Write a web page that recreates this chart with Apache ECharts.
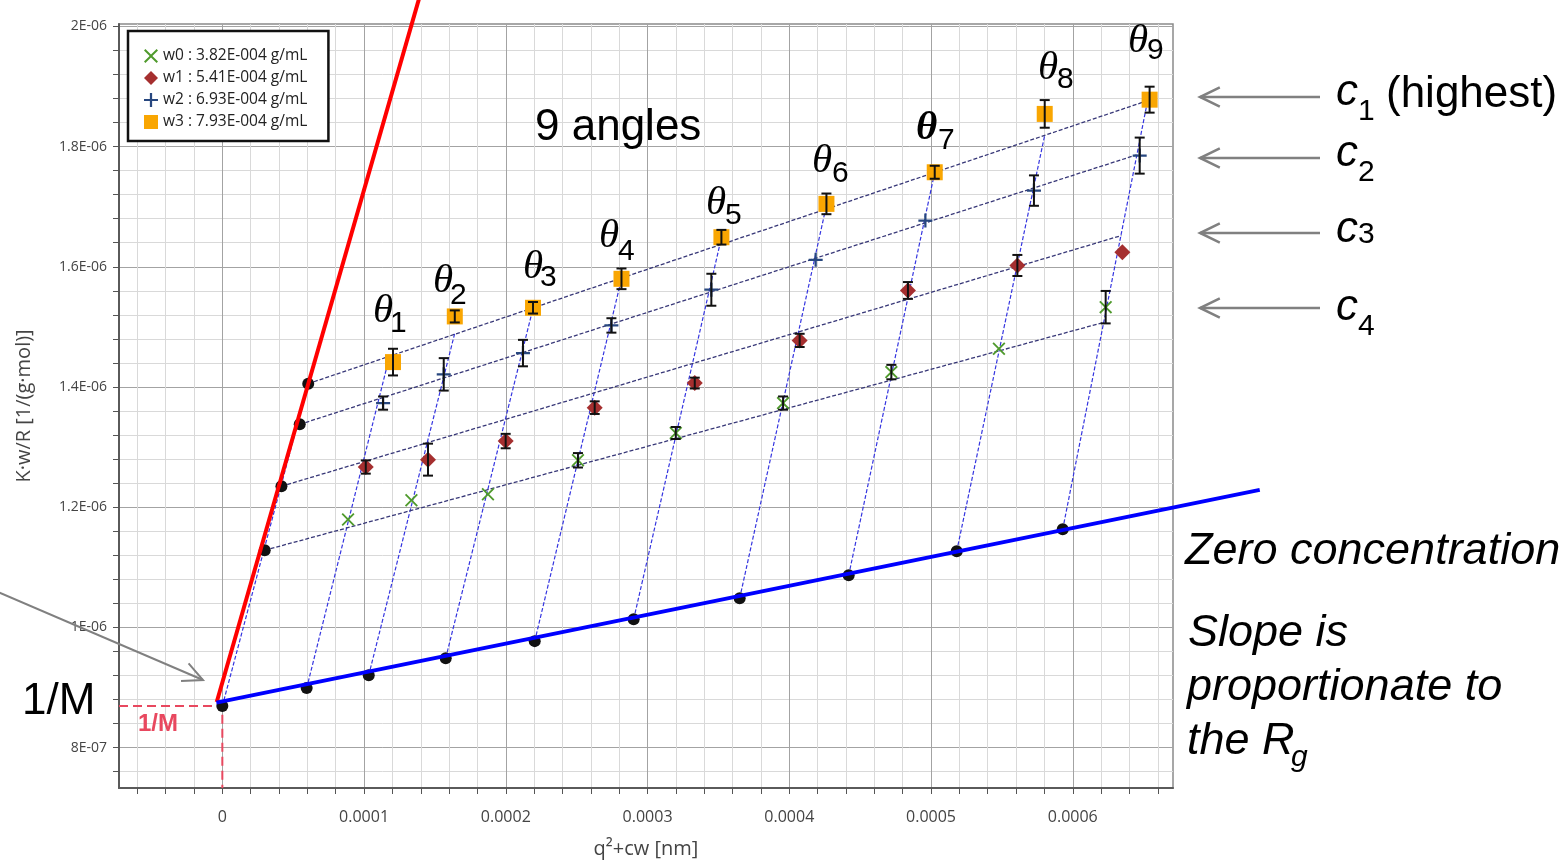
<!DOCTYPE html>
<html lang="en">
<head>
<meta charset="UTF-8" />
<title>Zimm plot</title>
<script src="https://cdn.jsdelivr.net/npm/echarts@6.0.0/dist/echarts.min.js"></script>
<style>
  body { margin: 0; background: #fff; }
  #main { width: 1568px; height: 864px; }
</style>
</head>
<body>
<div id="main"></div>
<script>
  // axes
  const xMajor = [0, 0.0001, 0.0002, 0.0003, 0.0004, 0.0005, 0.0006];
  const yMajor = [8e-7, 1e-6, 1.2e-6, 1.4e-6, 1.6e-6, 1.8e-6, 2e-6];
  const xRange = [-7.29e-5, 6.707e-4];
  const yRange = [7.327e-7, 2.004e-6];

  // measured points, one array per concentration (theta1..theta9)
  const concNames = ['w0 : 3.82E-004 g/mL', 'w1 : 5.41E-004 g/mL', 'w2 : 6.93E-004 g/mL', 'w3 : 7.93E-004 g/mL'];
  const w0X = [0.887e-4, 1.334e-4, 1.874e-4, 2.509e-4, 3.199e-4, 3.956e-4, 4.720e-4, 5.479e-4, 6.232e-4];
  const w0Y = [1.1794e-6, 1.2115e-6, 1.2214e-6, 1.2780e-6, 1.3234e-6, 1.3732e-6, 1.4248e-6, 1.4637e-6, 1.5328e-6];
  const w0Err = [0, 0, 0, 0.012e-6, 0.010e-6, 0.011e-6, 0.012e-6, 0, 0.027e-6];
  const w1X = [1.012e-4, 1.451e-4, 1.999e-4, 2.627e-4, 3.333e-4, 4.073e-4, 4.837e-4, 5.609e-4, 6.350e-4];
  const w1Y = [1.2668e-6, 1.2791e-6, 1.3100e-6, 1.3656e-6, 1.4065e-6, 1.4775e-6, 1.5606e-6, 1.6022e-6, 1.6243e-6];
  const w1Err = [0.011e-6, 0.0266e-6, 0.012e-6, 0.0105e-6, 0.009e-6, 0.011e-6, 0.014e-6, 0.0175e-6, 0];
  const w2X = [1.134e-4, 1.562e-4, 2.121e-4, 2.745e-4, 3.450e-4, 4.186e-4, 4.960e-4, 5.726e-4, 6.472e-4];
  const w2Y = [1.3732e-6, 1.4210e-6, 1.4564e-6, 1.5024e-6, 1.5618e-6, 1.6116e-6, 1.6770e-6, 1.7268e-6, 1.7850e-6];
  const w2Err = [0.011e-6, 0.027e-6, 0.022e-6, 0.012e-6, 0.0266e-6, 0, 0, 0.0253e-6, 0.030e-6];
  const w3X = [1.204e-4, 1.640e-4, 2.192e-4, 2.816e-4, 3.521e-4, 4.262e-4, 5.026e-4, 5.802e-4, 6.542e-4];
  const w3Y = [1.4414e-6, 1.5174e-6, 1.5318e-6, 1.5800e-6, 1.6492e-6, 1.7047e-6, 1.7573e-6, 1.8544e-6, 1.8781e-6];
  const w3Err = [0.0222e-6, 0.010e-6, 0.0096e-6, 0.0172e-6, 0.0122e-6, 0.0172e-6, 0.0108e-6, 0.023e-6, 0.0216e-6];

  // extrapolated points: zero angle (c1..c4) and zero concentration (theta0..theta9)
  const zeroAngleX = [6.06e-5, 5.46e-5, 4.17e-5, 2.99e-5];
  const zeroAngleY = [1.4055e-6, 1.3378e-6, 1.2348e-6, 1.1283e-6];
  const zeroConcX = [0, 5.95e-5, 1.033e-4, 1.576e-4, 2.204e-4, 2.902e-4, 3.650e-4, 4.419e-4, 5.181e-4, 5.929e-4];
  const zeroConcY = [0.869e-6, 0.8989e-6, 0.9205e-6, 0.9488e-6, 0.9771e-6, 1.0136e-6, 1.0485e-6, 1.0868e-6, 1.1267e-6, 1.1633e-6];

  // fitted grid ends: angle lines end on c1, concentration lines end on theta9
  const fitC1X = [6.06e-5, 1.181e-4, 1.640e-4, 2.190e-4, 2.818e-4, 3.510e-4, 4.257e-4, 5.026e-4, 5.802e-4, 6.528e-4];
  const fitC1Y = [1.4055e-6, 1.4525e-6, 1.4896e-6, 1.5290e-6, 1.5819e-6, 1.6371e-6, 1.6969e-6, 1.7573e-6, 1.8190e-6, 1.8765e-6];
  const fitT9X = [6.528e-4, 6.449e-4, 6.343e-4, 6.218e-4];
  const fitT9Y = [1.8765e-6, 1.7862e-6, 1.6520e-6, 1.5074e-6];

  // extrapolation lines (zero angle in red, zero concentration in blue)
  const redLineX = [-3.95e-6, 1.3925e-4];
  const redLineY = [0.8757e-6, 2.05e-6];
  const blueLineX = [-4.2e-6, 7.319e-4];
  const blueLineY = [0.8748e-6, 1.2288e-6];
  const oneOverM = 0.869e-6;

  function minorTicks(major, from, to) {
    const step = (major[1] - major[0]) / 5;
    const out = [];
    for (let k = Math.ceil(from / step - 1e-6); k * step <= to; k++) {
      out.push(Number((k * step).toPrecision(10)));
    }
    return out;
  }
  const xMinor = minorTicks(xMajor, xRange[0], xRange[1]);
  const yMinor = minorTicks(yMajor, yRange[0], yRange[1]);

  function sciLabel(v) {
    const parts = Number(v.toPrecision(6)).toExponential().split('e');
    const n = parseInt(parts[1], 10);
    return parts[0] + 'E' + (n < 0 ? '-' : '+') + String(Math.abs(n)).padStart(2, '0');
  }

  const zip = (xs, ys) => xs.map((x, i) => [x, ys[i]]);
  const withErr = (xs, ys, es) => xs.map((x, i) => [x, ys[i], es[i]]);

  const markers = [
    { X: w0X, Y: w0Y, E: w0Err, color: '#4f9a2c', size: 13,
      symbol: 'path://M1,0L5,4L9,0L10,1L6,5L10,9L9,10L5,6L1,10L0,9L4,5L0,1Z' },
    { X: w1X, Y: w1Y, E: w1Err, color: '#a52f2f', size: 16, symbol: 'diamond' },
    { X: w2X, Y: w2Y, E: w2Err, color: '#27477f', size: 14,
      symbol: 'path://M4.2,0H5.8V4.2H10V5.8H5.8V10H4.2V5.8H0V4.2H4.2Z' },
    { X: w3X, Y: w3Y, E: w3Err, color: '#f9a602', size: 16, symbol: 'rect' }
  ];

  const angleLines = zeroConcX.map((x, i) => ({ coords: [[x, zeroConcY[i]], [fitC1X[i], fitC1Y[i]]] }));
  const concLines = zeroAngleX.map((x, i) => ({ coords: [[x, zeroAngleY[i]], [fitT9X[i], fitT9Y[i]]] }));

  const series = [
    {
      type: 'lines', coordinateSystem: 'cartesian2d', silent: true, z: 2,
      lineStyle: { color: '#3535e0', width: 1.2, type: [4, 2], opacity: 1 },
      data: angleLines
    },
    {
      type: 'lines', coordinateSystem: 'cartesian2d', silent: true, z: 2,
      lineStyle: { color: '#383878', width: 1.3, type: [4, 2], opacity: 1 },
      data: concLines
    },
    {
      type: 'lines', coordinateSystem: 'cartesian2d', silent: true, polyline: true, z: 2,
      lineStyle: { color: '#e8485f', width: 2, type: [9, 5], opacity: 1 },
      data: [{ coords: [[xRange[0], oneOverM], [0, oneOverM], [0, yRange[0]]] }]
    },
    {
      type: 'scatter', silent: true, z: 3, symbolSize: 12,
      itemStyle: { color: '#111', opacity: 1 },
      data: zip(zeroAngleX, zeroAngleY).concat(zip(zeroConcX, zeroConcY))
    },
    {
      type: 'lines', coordinateSystem: 'cartesian2d', silent: true, clip: false, z: 4,
      lineStyle: { color: '#ff0000', width: 4, opacity: 1 },
      data: [{ coords: zip(redLineX, redLineY) }]
    },
    {
      type: 'lines', coordinateSystem: 'cartesian2d', silent: true, clip: false, z: 4,
      lineStyle: { color: '#0000ff', width: 4, opacity: 1 },
      data: [{ coords: zip(blueLineX, blueLineY) }]
    }
  ];

  markers.forEach((m, i) => {
    series.push({
      name: concNames[i], type: 'scatter', z: 5,
      symbol: m.symbol, symbolSize: m.size,
      itemStyle: { color: m.color, opacity: 1 },
      data: zip(m.X, m.Y)
    });
    series.push({
      type: 'custom', z: 6, silent: true,
      data: withErr(m.X, m.Y, m.E),
      renderItem: function (params, api) {
        const x = api.value(0), y = api.value(1), e = api.value(2);
        if (!e) return null;
        const top = api.coord([x, y + e]);
        const bot = api.coord([x, y - e]);
        const st = { stroke: '#111', lineWidth: 2 };
        return {
          type: 'group',
          children: [
            { type: 'line', shape: { x1: top[0], y1: top[1], x2: bot[0], y2: bot[1] }, style: st },
            { type: 'line', shape: { x1: top[0] - 5, y1: top[1], x2: top[0] + 5, y2: top[1] }, style: st },
            { type: 'line', shape: { x1: bot[0] - 5, y1: bot[1], x2: bot[0] + 5, y2: bot[1] }, style: st }
          ]
        };
      }
    });
  });

  const sans = '"Liberation Sans", Arial, sans-serif';
  const serif = '"Liberation Serif", "Times New Roman", serif';
  function text(x, y, str, size, extra) {
    return {
      type: 'text', x: x, y: y, z: 100, silent: true,
      style: Object.assign({ text: str, fontSize: size, fontFamily: sans, fill: '#000',
        align: 'left', verticalAlign: 'middle' }, extra || {})
    };
  }
  function arrow(x1, y1, x2, y2, w) {
    const a = Math.atan2(y2 - y1, x2 - x1);
    const h = 22, s = 0.45;
    return [
      { type: 'line', z: 100, silent: true, shape: { x1: x1, y1: y1, x2: x2, y2: y2 },
        style: { stroke: '#808080', lineWidth: w } },
      { type: 'polyline', z: 100, silent: true,
        shape: { points: [
          [x2 - h * Math.cos(a - s), y2 - h * Math.sin(a - s)], [x2, y2],
          [x2 - h * Math.cos(a + s), y2 - h * Math.sin(a + s)]] },
        style: { stroke: '#808080', lineWidth: w, fill: null } }
    ];
  }

  const thetaPos = [[373, 311, 390, 324], [433, 281, 450, 296], [523, 267, 540, 278], [599, 236, 618, 252],
    [706, 203, 725, 216], [812, 161, 832, 174], [916, 128, 938, 141], [1038, 68, 1057, 80], [1128, 41, 1147, 51]];
  const graphic = [];
  thetaPos.forEach((p, i) => {
    graphic.push(text(p[0], p[1], 'θ', 41, { fontFamily: serif, fontStyle: 'italic', fontWeight: i === 6 ? 'bold' : 'normal' }));
    graphic.push(text(p[2], p[3], String(i + 1), 30));
  });
  graphic.push(text(535, 128, '9 angles', 44));
  const cPos = [[93, 112, '1'], [154, 173, '2'], [230, 235, '3'], [308, 327, '4']];
  const arrowY = [97, 158, 233, 308];
  cPos.forEach((p, i) => {
    graphic.push(text(1336, p[0], 'c', 44, { fontStyle: 'italic' }));
    graphic.push(text(1358, p[1], p[2], 30));
    graphic.push(...arrow(1320, arrowY[i], 1200, arrowY[i], 2.5));
  });
  graphic.push(text(1386, 95, '(highest)', 44));
  graphic.push(text(1185, 551, 'Zero concentration', 45, { fontStyle: 'italic' }));
  graphic.push(text(1188, 633, 'Slope is', 45, { fontStyle: 'italic' }));
  graphic.push(text(1187, 687, 'proportionate to', 45, { fontStyle: 'italic' }));
  graphic.push(text(1187, 741, 'the R', 45, { fontStyle: 'italic' }));
  graphic.push(text(1291, 758, 'g', 30, { fontStyle: 'italic' }));
  graphic.push(text(22, 702, '1/M', 44));
  graphic.push(text(138, 724, '1/M', 24, { fontWeight: 'bold', fill: '#e8485f' }));
  graphic.push(...arrow(-2, 592, 203, 680, 2));

  const uiFont = '"Open Sans", sans-serif';

  const chart = echarts.init(document.getElementById('main'), null, { renderer: 'canvas' });
  chart.setOption({
    backgroundColor: '#fff',
    animation: false,
    grid: { left: 119, right: 395, top: 24, bottom: 76, show: true,
      borderColor: '#8a8a8a', borderWidth: 1.5, backgroundColor: '#fff' },
    legend: {
      data: concNames, orient: 'vertical', left: 128, top: 31,
      backgroundColor: '#fff', borderColor: '#111', borderWidth: 2.5, borderRadius: 0,
      padding: [16, 21, 10, 16], itemGap: 4, itemWidth: 14, itemHeight: 14,
      textStyle: { fontFamily: uiFont, fontSize: 15.5, lineHeight: 18, color: '#222' }
    },
    xAxis: [
      {
        type: 'value', min: xRange[0], max: xRange[1], position: 'bottom',
        name: 'q²+cw [nm]', nameLocation: 'middle', nameGap: 51,
        nameTextStyle: { fontFamily: uiFont, fontSize: 20, color: '#444' },
        axisLine: { show: true, onZero: false, lineStyle: { color: '#5a5a5a', width: 2 } },
        axisTick: { show: true, customValues: xMinor, length: 6, lineStyle: { color: '#555' } },
        axisLabel: { customValues: xMajor, margin: 21, fontFamily: uiFont, fontSize: 16, color: '#444',
          formatter: v => String(Number(v.toPrecision(6))) },
        splitLine: { show: true, lineStyle: { color: '#d9d9d9', width: 1 } }
      },
      {
        type: 'value', min: xRange[0], max: xRange[1], position: 'top',
        axisLine: { show: false }, axisLabel: { show: false },
        axisTick: { show: false, customValues: xMajor },
        splitLine: { show: true, lineStyle: { color: '#a3a3a3', width: 1 } }
      }
    ],
    yAxis: [
      {
        type: 'value', min: yRange[0], max: yRange[1], position: 'left',
        name: 'K·w/R [1/(g·mol)]', nameLocation: 'middle', nameGap: 85,
        nameTextStyle: { fontFamily: uiFont, fontSize: 20, color: '#444' },
        axisLine: { show: true, onZero: false, lineStyle: { color: '#5a5a5a', width: 2 } },
        axisTick: { show: true, customValues: yMinor, length: 6, lineStyle: { color: '#555' } },
        axisLabel: { customValues: yMajor, margin: 12, fontFamily: uiFont, fontSize: 14, color: '#444',
          formatter: sciLabel },
        splitLine: { show: true, lineStyle: { color: '#d9d9d9', width: 1 } }
      },
      {
        type: 'value', min: yRange[0], max: yRange[1], position: 'right',
        axisLine: { show: false }, axisLabel: { show: false },
        axisTick: { show: false, customValues: yMajor },
        splitLine: { show: true, lineStyle: { color: '#a3a3a3', width: 1 } }
      }
    ],
    series: series,
    graphic: graphic
  });
</script>
</body>
</html>
